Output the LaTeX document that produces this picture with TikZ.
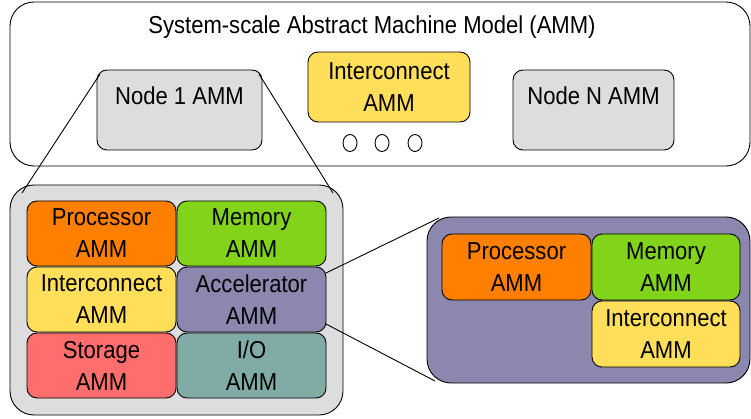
\documentclass[tikz,border=0pt]{standalone}
\usepackage{fontspec}
\setmainfont{Liberation Sans}[FakeStretch=0.9]
\usetikzlibrary{shapes.geometric}
\begin{document}
\begin{tikzpicture}[x=1pt,y=-1pt,
  every node/.style={inner sep=0pt, outer sep=0pt},
  box/.style={draw=black, line width=0.9pt, rounded corners=10pt, anchor=north west, align=center},
  panel/.style={draw=black, line width=0.9pt, rounded corners=24pt, anchor=north west},
  lbl/.style={font=\fontsize{24.5}{32}\selectfont, align=center},
  zoomline/.style={draw=black, line width=0.9pt},
  dot/.style={draw=black, line width=0.9pt, ellipse, minimum width=14pt, minimum height=17pt}
]
\definecolor{cGray}{HTML}{DDDDDD}
\definecolor{cOrange}{HTML}{FF8000}
\definecolor{cGreen}{HTML}{81D41A}
\definecolor{cYellow}{HTML}{FFDE59}
\definecolor{cPurple}{HTML}{8B87AF}
\definecolor{cRed}{HTML}{FF6D6D}
\definecolor{cTeal}{HTML}{81ACA6}
\useasboundingbox (0,0) rectangle (751,419);

% system level
\node[panel, minimum width=740pt, minimum height=164pt] (sys) at (10,2) {};
\node[lbl] (title) at (372,27) {System-scale Abstract Machine Model (AMM)};
\node[box, fill=cGray, minimum width=165pt, minimum height=80pt] (n1) at (97,70) {};
\node[lbl] (n1t) at (179.5,96) {Node 1 AMM};
\node[box, fill=cYellow, minimum width=162pt, minimum height=70pt, lbl] (ic) at (308,52) {Interconnect\\AMM};
\node[box, fill=cGray, minimum width=161pt, minimum height=80pt] (nn) at (513,70) {};
\node[lbl] (nnt) at (593.5,96) {Node N AMM};
\node[dot] (d1) at (350,143) {};
\node[dot] (d2) at (382,143) {};
\node[dot] (d3) at (415,143) {};

% node level
\node[panel, fill=cGray, minimum width=333pt, minimum height=230pt] (node) at (10,185) {};
\node[box, fill=cOrange, minimum width=149pt, minimum height=65pt, lbl] (p1) at (27,201) {Processor\\AMM};
\node[box, fill=cGreen, minimum width=149pt, minimum height=65pt, lbl] (m1) at (177,201) {Memory\\AMM};
\node[box, fill=cYellow, minimum width=149pt, minimum height=65pt, lbl] (i1) at (27,267) {Interconnect\\AMM};
\node[box, fill=cPurple, minimum width=149pt, minimum height=65pt, lbl] (acc) at (177,267) {Accelerator\\AMM};
\node[box, fill=cRed, minimum width=149pt, minimum height=65pt, lbl] (st) at (27,333) {Storage\\AMM};
\node[box, fill=cTeal, minimum width=149pt, minimum height=65pt, lbl] (io) at (177,333) {I/O\\AMM};

% accelerator level
\node[panel, fill=cPurple, minimum width=323pt, minimum height=166pt] (accz) at (427,217) {};
\node[box, fill=cOrange, minimum width=149pt, minimum height=66pt, lbl] (p2) at (442,234) {Processor\\AMM};
\node[box, fill=cGreen, minimum width=148pt, minimum height=66pt, lbl] (m2) at (592,234) {Memory\\AMM};
\node[box, fill=cYellow, minimum width=148pt, minimum height=66pt, lbl] (i2) at (592,301) {Interconnect\\AMM};

% zoom connectors
\draw[zoomline] ([shift={(3,4)}]n1.north west) -- ([shift={(12,8)}]node.north west);
\draw[zoomline] ([shift={(-3,4)}]n1.north east) -- ([shift={(-10,8)}]node.north east);
\draw[zoomline] ([shift={(0,6)}]acc.north east) -- ([shift={(12,1)}]accz.north west);
\draw[zoomline] ([shift={(0,-8)}]acc.south east) -- ([shift={(8,-2)}]accz.south west);
\end{tikzpicture}
\end{document}
